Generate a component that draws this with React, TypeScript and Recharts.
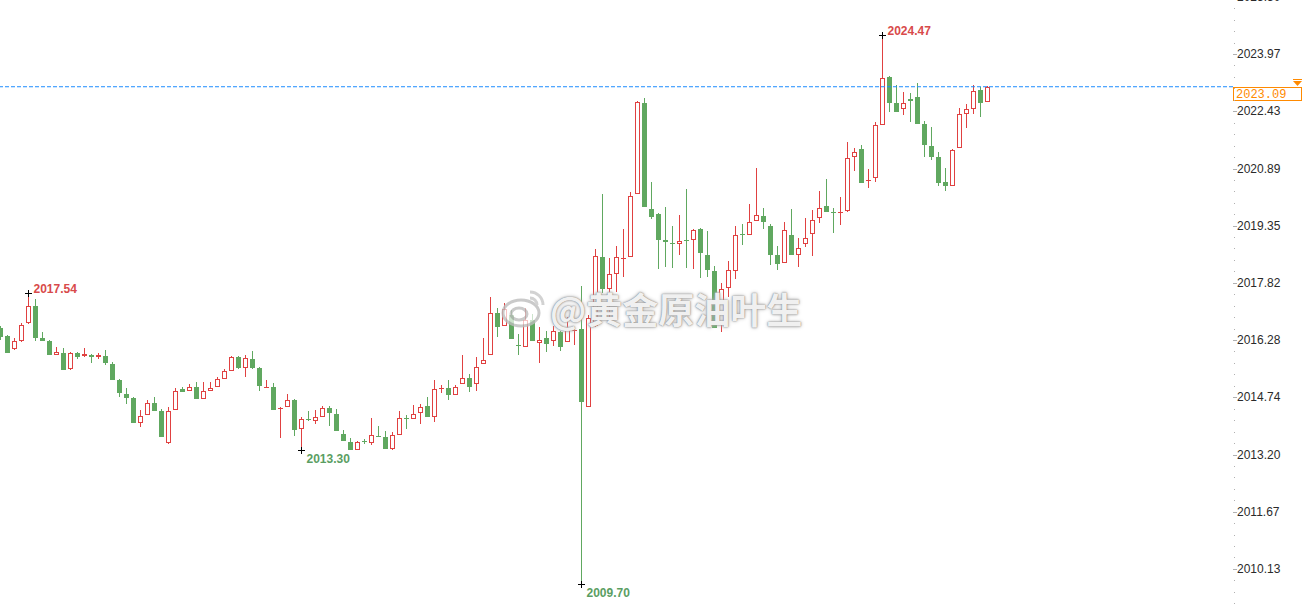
import { ComposedChart, Bar, XAxis, YAxis, ReferenceLine, ReferenceDot } from 'recharts';

// daily-ish candles, oldest first
const opens = [
  2016.60, 2016.39, 2016.04, 2016.25, 2016.74, 2017.20, 2016.34, 2016.25, 2015.88, 2015.93,
  2015.50, 2015.93, 2015.85, 2015.88, 2015.82, 2015.85, 2015.64, 2015.21, 2014.83, 2014.72,
  2014.05, 2014.27, 2014.59, 2014.37, 2013.51, 2014.40, 2014.96, 2014.91, 2015.02, 2014.70,
  2014.91, 2015.02, 2015.23, 2015.45, 2015.82, 2015.53, 2015.77, 2015.53, 2014.99, 2015.02,
  2014.43, 2014.48, 2014.67, 2013.89, 2014.16, 2014.10, 2014.21, 2014.45, 2014.29, 2013.75,
  2013.54, 2013.32, 2013.57, 2013.51, 2013.70, 2013.67, 2013.35, 2013.73, 2014.18, 2014.16,
  2014.32, 2014.51, 2014.21, 2014.96, 2014.99, 2014.80, 2015.10, 2015.26, 2015.10, 2015.64,
  2015.88, 2017.01, 2016.66, 2016.95, 2016.15, 2016.09, 2016.82, 2016.20, 2016.34, 2016.25,
  2016.50, 2016.23, 2016.52, 2016.58, 2014.48, 2016.66, 2018.51, 2017.65, 2018.06, 2018.46,
  2018.51, 2020.21, 2022.65, 2019.80, 2019.67, 2018.97, 2018.89, 2018.86, 2018.97, 2018.97,
  2019.27, 2018.57, 2018.14, 2016.69, 2017.68, 2018.14, 2019.13, 2019.10, 2019.48, 2019.62,
  2019.35, 2018.57, 2018.35, 2019.10, 2018.57, 2018.86, 2019.13, 2019.56, 2019.88, 2019.72,
  2019.70, 2019.75, 2021.20, 2021.42, 2020.56, 2020.64, 2022.06, 2023.35, 2022.65, 2022.49,
  2022.76, 2022.81, 2022.09, 2021.50, 2021.20, 2020.53, 2020.42, 2021.44, 2022.36, 2022.49,
  2023.00, 2022.68,
];
const highs = [
  2016.66, 2016.42, 2016.34, 2016.74, 2017.54, 2017.38, 2016.50, 2016.28, 2016.09, 2016.07,
  2015.96, 2015.96, 2016.07, 2015.91, 2015.93, 2016.01, 2015.69, 2015.23, 2014.99, 2014.75,
  2014.40, 2014.67, 2014.75, 2014.43, 2014.48, 2014.99, 2015.02, 2015.10, 2015.15, 2015.15,
  2015.15, 2015.29, 2015.50, 2015.85, 2015.85, 2015.88, 2015.99, 2015.56, 2015.21, 2015.13,
  2014.48, 2014.83, 2014.70, 2014.21, 2014.37, 2014.40, 2014.51, 2014.51, 2014.43, 2013.86,
  2013.65, 2013.57, 2013.62, 2014.18, 2013.97, 2013.84, 2013.81, 2014.37, 2014.27, 2014.53,
  2014.56, 2014.75, 2015.21, 2015.07, 2015.21, 2015.07, 2015.88, 2015.37, 2015.82, 2016.34,
  2017.44, 2017.14, 2017.28, 2017.09, 2016.44, 2017.14, 2016.98, 2016.63, 2016.52, 2016.66,
  2016.52, 2016.90, 2016.58, 2017.73, 2016.95, 2018.73, 2020.21, 2018.49, 2018.81, 2019.27,
  2020.26, 2022.71, 2022.79, 2020.53, 2019.70, 2019.86, 2019.35, 2019.64, 2020.34, 2019.27,
  2019.29, 2019.21, 2018.27, 2017.81, 2018.41, 2019.35, 2019.40, 2019.94, 2020.91, 2019.83,
  2019.40, 2018.81, 2019.45, 2019.80, 2019.02, 2019.56, 2019.78, 2020.29, 2020.61, 2019.83,
  2020.13, 2021.60, 2021.44, 2021.52, 2020.88, 2022.14, 2024.47, 2023.38, 2023.14, 2022.95,
  2022.92, 2023.19, 2022.17, 2022.01, 2021.34, 2020.91, 2021.42, 2022.52, 2022.63, 2023.14,
  2023.08, 2023.11,
];
const lows = [
  2016.28, 2015.93, 2016.01, 2016.23, 2016.71, 2016.25, 2016.25, 2015.88, 2015.88, 2015.48,
  2015.48, 2015.77, 2015.82, 2015.66, 2015.77, 2015.61, 2015.21, 2014.75, 2014.56, 2014.05,
  2013.94, 2014.27, 2014.37, 2013.67, 2013.49, 2014.40, 2014.88, 2014.91, 2014.70, 2014.70,
  2014.91, 2015.02, 2015.23, 2015.45, 2015.50, 2015.29, 2015.50, 2014.91, 2014.99, 2014.40,
  2013.65, 2014.48, 2013.70, 2013.30, 2014.10, 2014.02, 2014.21, 2013.97, 2013.84, 2013.57,
  2013.32, 2013.32, 2013.49, 2013.46, 2013.67, 2013.35, 2013.33, 2013.73, 2013.89, 2014.16,
  2014.02, 2014.21, 2014.08, 2014.86, 2014.67, 2014.80, 2015.10, 2014.88, 2014.91, 2015.64,
  2015.88, 2016.36, 2016.66, 2016.31, 2015.88, 2016.09, 2016.25, 2015.66, 2015.96, 2016.12,
  2015.99, 2016.23, 2016.15, 2009.70, 2014.48, 2016.63, 2017.55, 2016.90, 2017.57, 2017.98,
  2018.51, 2020.21, 2019.86, 2019.53, 2018.19, 2018.24, 2018.22, 2018.57, 2018.22, 2018.19,
  2017.95, 2017.98, 2016.60, 2016.50, 2017.44, 2017.92, 2018.84, 2019.10, 2019.48, 2019.27,
  2018.30, 2018.16, 2018.35, 2018.57, 2018.24, 2018.78, 2018.54, 2019.43, 2019.72, 2019.16,
  2019.37, 2019.72, 2020.82, 2020.50, 2020.37, 2020.53, 2022.06, 2022.41, 2022.41, 2022.33,
  2022.14, 2022.09, 2021.20, 2021.12, 2020.42, 2020.29, 2020.42, 2021.44, 2021.98, 2022.36,
  2022.28, 2022.68,
];
const closes = [
  2016.36, 2015.93, 2016.25, 2016.69, 2017.20, 2016.34, 2016.25, 2015.88, 2015.96, 2015.48,
  2015.93, 2015.82, 2015.91, 2015.82, 2015.88, 2015.66, 2015.21, 2014.86, 2014.72, 2014.05,
  2014.24, 2014.59, 2014.37, 2013.67, 2014.37, 2014.91, 2014.88, 2015.02, 2014.70, 2014.91,
  2014.99, 2015.23, 2015.45, 2015.82, 2015.53, 2015.80, 2015.53, 2015.05, 2015.02, 2014.40,
  2014.45, 2014.67, 2013.86, 2014.16, 2014.13, 2014.21, 2014.45, 2014.32, 2013.84, 2013.57,
  2013.32, 2013.54, 2013.54, 2013.73, 2013.67, 2013.35, 2013.73, 2014.18, 2014.16, 2014.29,
  2014.48, 2014.21, 2014.96, 2014.99, 2014.80, 2015.02, 2015.26, 2015.02, 2015.56, 2015.74,
  2017.01, 2016.63, 2017.12, 2016.31, 2016.12, 2016.82, 2016.25, 2016.28, 2016.17, 2016.52,
  2016.09, 2016.55, 2016.55, 2014.62, 2016.87, 2018.54, 2017.65, 2018.06, 2018.51, 2018.49,
  2020.15, 2022.68, 2019.86, 2019.59, 2018.97, 2018.92, 2018.86, 2018.94, 2018.94, 2019.24,
  2018.62, 2018.16, 2016.60, 2017.65, 2018.16, 2019.10, 2019.10, 2019.45, 2019.64, 2019.45,
  2018.57, 2018.32, 2019.24, 2018.57, 2018.75, 2019.02, 2019.51, 2019.83, 2019.72, 2019.70,
  2019.72, 2021.17, 2021.34, 2020.50, 2020.58, 2022.06, 2023.32, 2022.65, 2022.41, 2022.65,
  2022.71, 2022.09, 2021.52, 2021.20, 2020.50, 2020.42, 2021.39, 2022.36, 2022.49, 2022.98,
  2022.65, 2023.09,
];

const priceTicks = [2025.50, 2023.97, 2022.43, 2020.89, 2019.35, 2017.82, 2016.28, 2014.74, 2013.20, 2011.67, 2010.13];
const lastPrice = 2023.09;

// extreme marks: candle index, price, above/below
const markIdx = [4, 43, 83, 126];
const markPrice = [2017.54, 2013.30, 2009.70, 2024.47];
const markKind = ['high', 'low', 'low', 'high'];

const RED = '#e04141';
const GREEN = '#60a860';
const W = 1302;
const H = 615;
const AXIS_W = 69;
const SLOT = 7;

const data = opens.map((o, i) => ({
  i,
  o,
  h: highs[i],
  l: lows[i],
  c: closes[i],
  range: [lows[i], highs[i]],
}));

// minor ticks, 5 per labelled step
const step = (priceTicks[1] - priceTicks[priceTicks.length - 1]) / (priceTicks.length - 2);
const minorTicks: number[] = [];
for (let k = -5; k < 60; k++) {
  const v = +(priceTicks[1] - (k * step) / 5).toFixed(4);
  if (k % 5 !== 0) minorTicks.push(v);
}
const allTicks = [...priceTicks, ...minorTicks];

const plotW = W - AXIS_W;
const xDomain = [-0.5 / SLOT, (plotW - 0.5) / SLOT];
const yDomain = [2008.889, 2025.422];

function Candle(props: any) {
  const { x, width, payload } = props;
  let { y, height } = props;
  if (height < 0) {
    y = y + height;
    height = -height;
  }
  const { o, h, l, c } = payload;
  const cx = Math.round(x + width / 2 - 0.5) + 0.5;
  const k = h === l ? 0 : height / (h - l);
  const py = (v: number) => Math.round(y + (h - v) * k);
  const up = c >= o;
  const top = py(Math.max(o, c));
  const bot = py(Math.min(o, c));
  const yh = py(h);
  const yl = py(l);
  if (up) {
    const bh = Math.max(bot - top, 1);
    return (
      <g>
        <line x1={cx} x2={cx} y1={yh} y2={top} stroke={RED} />
        <line x1={cx} x2={cx} y1={top + bh} y2={yl} stroke={RED} />
        {bot - top < 2 ? (
          <rect x={cx - 2.5} y={top} width={5} height={1} fill={RED} />
        ) : (
          <rect x={cx - 2} y={top + 0.5} width={4} height={bh - 1} fill="#fff" stroke={RED} />
        )}
      </g>
    );
  }
  return (
    <g>
      <line x1={cx} x2={cx} y1={yh} y2={yl} stroke={GREEN} />
      <rect x={cx - 2.5} y={top} width={5} height={Math.max(bot - top, 1)} fill={GREEN} />
    </g>
  );
}

function PriceTick(props: any) {
  const { y, payload } = props;
  const v = payload.value;
  const major = priceTicks.includes(v);
  const ax = plotW;
  if (!major) {
    return <rect x={ax + 1} y={Math.round(y)} width={1} height={1} fill="#b0b0b0" />;
  }
  return (
    <g>
      <line x1={ax} x2={ax + 4} y1={Math.round(y) + 0.5} y2={Math.round(y) + 0.5} stroke="#b0b0b0" />
      <text x={ax + 4} y={y + 4} fontSize={12} fill="#2a2a2a" fontFamily="'Liberation Sans', Arial, sans-serif">
        {v.toFixed(2)}
      </text>
    </g>
  );
}

function PriceTag(props: any) {
  const vb = props.viewBox || {};
  const x = (vb.x || 0) + (vb.width || 0);
  const y = Math.round(vb.y || 0);
  const orange = '#ff8a00';
  return (
    <g>
      <rect x={x + 0.5} y={y + 0.5} width={AXIS_W - 1} height={13} fill="#fff" stroke={orange} />
      <text x={x + 3} y={y + 11} fontSize={12} fill={orange} fontFamily="'Liberation Mono', monospace">
        {lastPrice.toFixed(2)}
      </text>
      <rect x={x + 60} y={y - 8} width={9} height={1} fill={orange} />
      <polygon points={`${x + 60},${y - 6} ${x + 69},${y - 6} ${x + 64.5},${y - 1}`} fill={orange} />
    </g>
  );
}

function Mark(props: any) {
  const { cx, cy, kind, value } = props;
  const px = Math.round(cx - 0.5) + 0.5;
  const py = Math.round(cy - 0.5) + 0.5;
  const high = kind === 'high';
  return (
    <g>
      <line x1={px - 3.5} x2={px + 3.5} y1={py} y2={py} stroke="#000" />
      <line x1={px} x2={px} y1={py - 3.5} y2={py + 3.5} stroke="#000" />
      <text
        x={px + 5}
        y={high ? py - 1 : py + 12}
        fontSize={12}
        fontWeight="bold"
        fill={high ? '#d84a4a' : '#5a9e62'}
        fontFamily="'Liberation Sans', Arial, sans-serif"
      >
        {value.toFixed(2)}
      </text>
    </g>
  );
}

export default function App() {
  return (
    <div style={{ position: 'absolute', left: 0, top: 0, width: W, height: H, background: '#fff' }}>
      <ComposedChart width={W} height={H} data={data} margin={{ top: 0, right: 0, bottom: 0, left: 0 }}>
        <XAxis dataKey="i" type="number" domain={xDomain} allowDataOverflow hide />
        <YAxis
          orientation="right"
          type="number"
          domain={yDomain}
          allowDataOverflow
          ticks={allTicks}
          interval={0}
          tick={<PriceTick />}
          tickLine={false}
          axisLine={false}
          width={AXIS_W}
        />
        <ReferenceLine
          y={lastPrice}
          stroke="#1e8cff"
          strokeDasharray="4 2"
          label={<PriceTag />}
        />
        <Bar dataKey="range" barSize={5} shape={<Candle />} isAnimationActive={false} />
        {markIdx.map((idx, n) => (
          <ReferenceDot
            key={n}
            x={idx}
            y={markPrice[n]}
            r={0}
            shape={(p: any) => <Mark cx={p.cx} cy={p.cy} kind={markKind[n]} value={markPrice[n]} />}
          />
        ))}
      </ComposedChart>
      <div
        style={{
          position: 'absolute',
          left: 500,
          top: 286,
          display: 'flex',
          alignItems: 'center',
          pointerEvents: 'none',
        }}
      >
        <svg width={48} height={44} style={{ opacity: 0.8 }}>
          <ellipse cx={21} cy={27} rx={18} ry={13} fill="rgba(255,255,255,0.85)" stroke="#bdbdbd" strokeWidth={3} />
          <ellipse cx={19} cy={28} rx={8} ry={6} fill="none" stroke="#bdbdbd" strokeWidth={3} />
          <path d="M30 6 A13 13 0 0 1 43 19" fill="none" stroke="#c8c8c8" strokeWidth={3} />
          <path d="M30 12 A7 7 0 0 1 37 19" fill="none" stroke="#c8c8c8" strokeWidth={3} />
        </svg>
        <span
          style={{
            fontFamily: "'Noto Sans CJK SC', sans-serif",
            fontSize: 36,
            fontWeight: 700,
            color: 'rgba(255,255,255,0.9)',
            textShadow: '0 0 1px #8a8a8a, 0 0 2px #9a9a9a, 0 0 4px #b8b8b8',
            lineHeight: '44px',
            marginLeft: 2,
          }}
        >
          @黄金原油叶生
        </span>
      </div>
    </div>
  );
}
